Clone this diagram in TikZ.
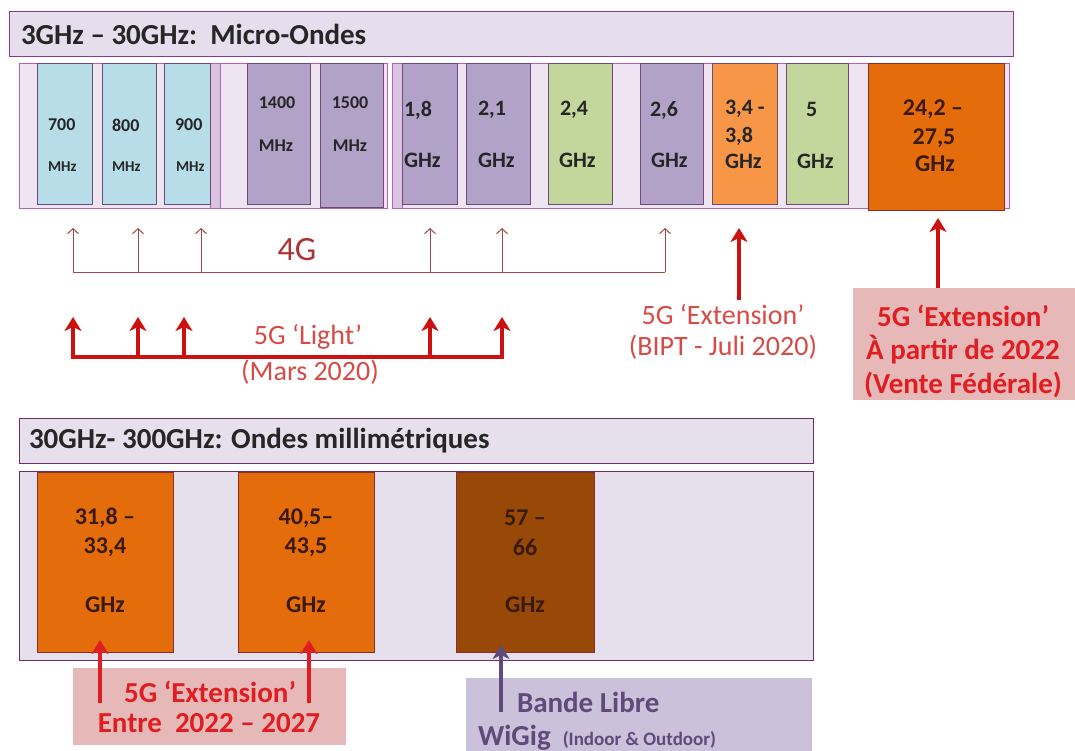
\documentclass[tikz,border=0pt]{standalone}
\usepackage{fontspec}
\setmainfont{Carlito}
\usetikzlibrary{arrows.meta}

\definecolor{framefill}{HTML}{E6DEEC}
\definecolor{frameline}{HTML}{8A3C8A}
\definecolor{panelfill}{HTML}{EFE4F1}
\definecolor{panelline}{HTML}{C05CC0}
\definecolor{stripfill}{HTML}{D9C4E3}
\definecolor{lowpanel}{HTML}{E6E0EC}
\definecolor{lowline}{HTML}{6C2C6C}
\definecolor{bandblue}{HTML}{B7DDE8}
\definecolor{bandpurple}{HTML}{B3A2C7}
\definecolor{bandgreen}{HTML}{C3D69B}
\definecolor{bandorange}{HTML}{F79646}
\definecolor{banddeep}{HTML}{E46C0A}
\definecolor{bandbrown}{HTML}{984807}
\definecolor{bandedge}{HTML}{6E4A76}
\definecolor{deepedge}{HTML}{8C2E2E}
\definecolor{ink}{HTML}{262626}
\definecolor{darkink}{HTML}{3A1A0A}
\definecolor{thinred}{HTML}{A04848}
\definecolor{fourg}{HTML}{A83434}
\definecolor{thickred}{HTML}{CC1111}
\definecolor{softred}{HTML}{D84A45}
\definecolor{boldred}{HTML}{E01E22}
\definecolor{pinkbox}{HTML}{E6B9B8}
\definecolor{lilacbox}{HTML}{CCC1DA}
\definecolor{violet}{HTML}{604A7B}

% rectangle node: name, style, top-left x, top-left y, width, height
\newcommand\rbox[6]{\node[#2, minimum width=#5pt, minimum height=#6pt] (#1) at (#3,#4) {};}

\begin{document}
\begin{tikzpicture}[x=1pt,y=-1pt,
  every node/.style={inner sep=0pt, outer sep=0pt},
  headbar/.style={draw=frameline, fill=framefill, line width=1pt, anchor=north west},
  panel/.style={draw=panelline, fill=panelfill, line width=0.8pt, anchor=north west},
  strip/.style={draw=panelline, fill=stripfill, line width=0.8pt, anchor=north west},
  lowbox/.style={draw=lowline, fill=lowpanel, line width=1pt, anchor=north west},
  band/.style={draw=bandedge, line width=0.8pt, anchor=north west},
  deepband/.style={draw=deepedge, line width=0.8pt, anchor=north west},
  tag/.style={anchor=north west},
  title/.style={font=\bfseries\fontsize{29}{29}\selectfont, text=ink, anchor=west},
  small/.style={font=\bfseries\fontsize{18}{18}\selectfont, text=ink},
  tiny/.style={font=\bfseries\fontsize{15}{15}\selectfont, text=ink},
  mid/.style={font=\bfseries\fontsize{22}{22}\selectfont, text=ink},
  big/.style={font=\bfseries\fontsize{24}{24}\selectfont, text=darkink},
  softlbl/.style={font=\fontsize{28}{28}\selectfont, text=softred},
  boldlbl/.style={font=\bfseries\fontsize{29}{29}\selectfont, text=boldred},
  lilaclbl/.style={font=\bfseries\fontsize{29}{29}\selectfont, text=violet},
  thinarrow/.style={draw=thinred, line width=1pt, -{Straight Barb[length=5pt,width=11pt]}},
  thinline/.style={draw=thinred, line width=1pt},
  fatarrow/.style={draw=thickred, line width=4pt, -{Stealth[length=14pt,width=17pt,inset=4pt]}},
  fatline/.style={draw=thickred, line width=4pt},
  lilacarrow/.style={draw=violet, line width=4pt, -{Stealth[length=14pt,width=17pt,inset=4pt]}},
]
\useasboundingbox (0,0) rectangle (1075,751);

% ---------- micro-wave range ----------
\rbox{hdA}{headbar}{9}{12}{1004}{45}
\node[title] (hdAtxt) at (21,34) {3GHz – 30GHz:\ \ Micro-Ondes};

\rbox{pA}{panel}{19}{63}{201}{145}
\rbox{sA}{strip}{210}{63}{10}{145}
\rbox{pB}{panel}{220}{63}{167}{145}
\rbox{pC}{panel}{392}{63}{617}{145}
\rbox{sC}{strip}{392}{63}{10}{145}

\rbox{b700}{band, fill=bandblue}{37}{63}{55}{141}
\rbox{b800}{band, fill=bandblue}{102}{63}{54}{141}
\rbox{b900}{band, fill=bandblue}{164}{63}{46}{141}
\rbox{b1400}{band, fill=bandpurple}{247}{63}{63}{141}
\rbox{b1500}{band, fill=bandpurple}{320}{63}{63}{144}
\rbox{b18}{band, fill=bandpurple}{402}{63}{55}{141}
\rbox{b21}{band, fill=bandpurple}{466}{63}{64}{141}
\rbox{b24}{band, fill=bandgreen}{548}{63}{64}{141}
\rbox{b26}{band, fill=bandpurple}{640}{63}{63}{141}
\rbox{b34}{band, fill=bandorange}{712}{63}{65}{141}
\rbox{b5}{band, fill=bandgreen}{786}{63}{62}{141}
\rbox{b242}{deepband, fill=banddeep}{868}{63}{136}{147}

\node[small, anchor=west] (t700) at (48,125) {700};
\node[tiny, anchor=west] (u700) at (48,167) {MHz};
\node[small, anchor=west] (t800) at (112,125) {800};
\node[tiny, anchor=west] (u800) at (112,167) {MHz};
\node[small, anchor=west] (t900) at (175,125) {900};
\node[tiny, anchor=west] (u900) at (176,167) {MHz};
\node[small] (t1400) at (277,103) {1400};
\node[small] (u1400) at (276,146) {MHz};
\node[small] (t1500) at (350,103) {1500};
\node[small] (u1500) at (350,146) {MHz};
\node[mid, anchor=west] (t18) at (404,110) {1,8};
\node[mid, anchor=west] (u18) at (404,160) {GHz};
\node[mid, anchor=west] (t21) at (478,110) {2,1};
\node[mid, anchor=west] (u21) at (478,160) {GHz};
\node[mid, anchor=west] (t24) at (560,110) {2,4};
\node[mid, anchor=west] (u24) at (559,160) {GHz};
\node[mid, anchor=west] (t26) at (650,110) {2,6};
\node[mid, anchor=west] (u26) at (651,160) {GHz};
\node[mid, anchor=west] (t34) at (725,109) {3,4 -};
\node[mid, anchor=west] (m34) at (725,136) {3,8};
\node[mid, anchor=west] (u34) at (725,161) {GHz};
\node[mid, anchor=west] (t5) at (806,109) {5};
\node[mid, anchor=west] (u5) at (797,161) {GHz};
\node[big] (t242) at (933,109) {24,2 –};
\node[big] (m242) at (934,138) {27,5};
\node[big] (u242) at (935,164) {GHz};

% ---------- 4G bus ----------
\node[font=\fontsize{34}{34}\selectfont, text=fourg] (lbl4g) at (297,250) {4G};
\foreach \i/\x in {1/73, 2/138, 3/201, 4/430, 5/502, 6/665} {
  \coordinate (qa\i) at (\x,272);
  \coordinate (pa\i) at (\x,228);
}
\draw[thinline] (qa1) -- (qa6);
\foreach \i in {1,...,6} { \draw[thinarrow] (qa\i) -- (pa\i); }

% ---------- 5G light bus ----------
\foreach \i/\x in {1/73, 2/138, 3/184, 4/430, 5/502} {
  \coordinate (qb\i) at (\x,357);
  \coordinate (pb\i) at (\x,317);
}
\draw[fatline, line cap=rect] (qb1) -- (qb5);
\foreach \i in {1,...,5} { \draw[fatarrow] (qb\i) -- (pb\i); }
\node[softlbl] (lblLight) at (308,337) {5G ‘Light’};
\node[softlbl] (lblMars) at (310,372) {(Mars 2020)};

% ---------- 3,4-3,8 extension ----------
\coordinate (bA) at (739,300);
\coordinate (bT) at (739,228);
\draw[fatarrow] (bA) -- (bT);
\node[softlbl] (lblExt) at (723,315) {5G ‘Extension’};
\node[softlbl] (lblBipt) at (723,347) {(BIPT - Juli 2020)};

% ---------- 24,2-27,5 extension ----------
\rbox{vente}{tag, fill=pinkbox}{853}{288}{222}{112}
\node[boldlbl] (v1) at (963,316) {5G ‘Extension’};
\node[boldlbl] (v2) at (963,350) {À partir de 2022};
\node[boldlbl] (v3) at (963,385) {(Vente Fédérale)};
\coordinate (vT) at (938,218);
\draw[fatarrow] (vente.north -| vT) -- (vT);

% ---------- millimetre range ----------
\rbox{hdB}{lowbox}{19}{418}{794}{45}
\node[title] (hdBtxt) at (29,441) {30GHz- 300GHz: Ondes millimétriques};
\rbox{pD}{lowbox}{19}{471}{794}{189}

\rbox{m318}{deepband, fill=banddeep}{37}{472}{136}{180}
\rbox{m405}{deepband, fill=banddeep}{238}{472}{136}{180}
\rbox{m57}{deepband, fill=bandbrown}{456}{472}{138}{180}

\node[big] (n318a) at (105,518) {31,8 –};
\node[big] (n318b) at (105,547) {33,4};
\node[big] (n318c) at (105,605) {GHz};
\node[big] (n405a) at (306,518) {40,5–};
\node[big] (n405b) at (306,547) {43,5};
\node[big] (n405c) at (306,605) {GHz};
\node[big] (n57a) at (525,518) {57 –};
\node[big] (n57b) at (525,547) {66};
\node[big] (n57c) at (525,605) {GHz};

% ---------- millimetre extension ----------
\rbox{entre}{tag, fill=pinkbox}{73}{668}{273}{77}
\node[boldlbl] (e1) at (210,692) {5G ‘Extension’};
\node[boldlbl] (e2) at (209,723) {Entre\ \ 2022 – 2027};
\coordinate (eA1) at (100,703);
\coordinate (eT1) at (100,640);
\coordinate (eA2) at (309,703);
\coordinate (eT2) at (309,640);
\draw[fatarrow, draw=boldred] (eA1) -- (eT1);
\draw[fatarrow, draw=boldred] (eA2) -- (eT2);

% ---------- unlicensed band ----------
\rbox{libre}{tag, fill=lilacbox}{466}{678}{346}{73}
\node[lilaclbl, anchor=west] (w1) at (517,702) {Bande Libre};
\node[lilaclbl, anchor=base west] (w2) at (478,745) {WiGig\hspace{12pt}{\fontsize{19}{19}\selectfont(Indoor \& Outdoor)}};
\coordinate (wA) at (501,712);
\coordinate (wT) at (501,645);
\draw[lilacarrow] (wA) -- (wT);
\end{tikzpicture}
\end{document}
